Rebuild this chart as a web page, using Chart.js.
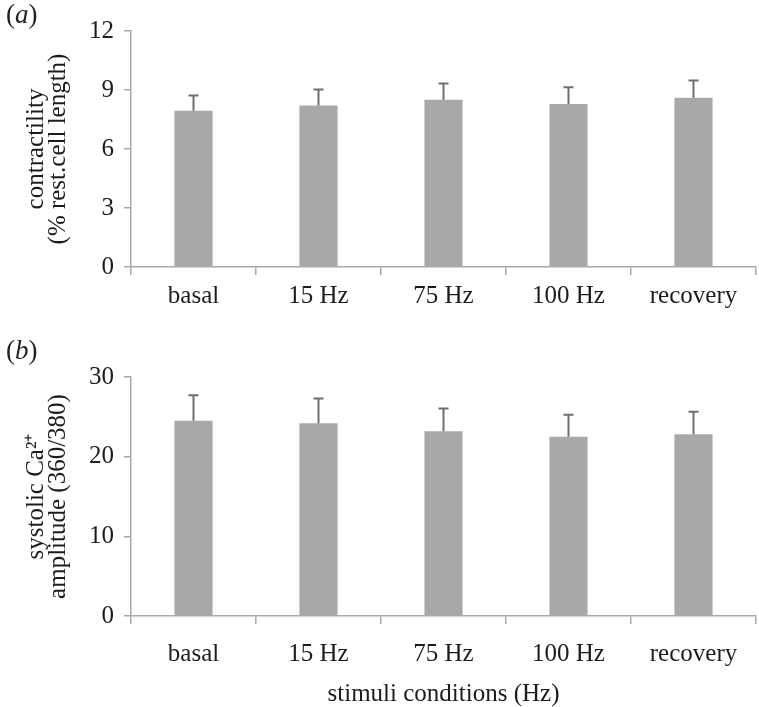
<!DOCTYPE html>
<html><head><meta charset="utf-8">
<script src="https://cdn.jsdelivr.net/npm/chart.js@4"></script>
<style>
html,body{margin:0;padding:0;background:#fff;}
#wrap{position:relative;width:759px;height:707px;overflow:hidden;background:#fff;}
canvas{position:absolute;left:0;}
.lab{position:absolute;font-family:"Liberation Serif",serif;font-size:27px;line-height:27px;color:#231f20;white-space:nowrap;}
</style></head>
<body><div id="wrap">
<canvas id="c1" width="759" height="330" style="top:0"></canvas>
<canvas id="c2" width="759" height="377" style="top:330px"></canvas>
<div class="lab" style="left:6px;top:1px">(<i>a</i>)</div>
<div class="lab" style="left:6px;top:337px">(<i>b</i>)</div>
</div>
<script>
const categories = ['basal', '15 Hz', '75 Hz', '100 Hz', 'recovery'];
const contractility = [7.95, 8.21, 8.51, 8.29, 8.60];
const contractilityErr = [0.77, 0.81, 0.82, 0.85, 0.88];
const contractilityTicks = [0, 3, 6, 9, 12];
const calcium = [24.5, 24.2, 23.2, 22.5, 22.8];
const calciumErr = [3.2, 3.1, 2.85, 2.77, 2.84];
const calciumTicks = [0, 10, 20, 30];

const FONT = '"Liberation Serif", "Times New Roman", serif';
const TEXT = '#1f1b1c';
const AXIS = '#a9a9a9';
const BAR = '#a8a8a8';
const ERR = '#6e6e6e';

const errorBars = {
  id: 'errorBars',
  afterDatasetsDraw(chart) {
    const ctx = chart.ctx;
    const y = chart.scales.y;
    chart.data.datasets.forEach((ds, di) => {
      const meta = chart.getDatasetMeta(di);
      meta.data.forEach((el, i) => {
        const v = ds.data[i], e = ds.errors[i];
        const y0 = y.getPixelForValue(v);
        const y1 = y.getPixelForValue(v + e);
        ctx.save();
        ctx.strokeStyle = ERR;
        ctx.lineWidth = 2;
        ctx.beginPath();
        ctx.moveTo(el.x, y0);
        ctx.lineTo(el.x, y1);
        ctx.moveTo(el.x - 5, y1);
        ctx.lineTo(el.x + 5, y1);
        ctx.stroke();
        ctx.restore();
      });
    });
  }
};

function makeChart(id, values, errors, ticks, yTitle, cfg) {
  const xScale = {
    grid: { display: true, drawOnChartArea: false, offset: true, tickLength: 8, color: AXIS, lineWidth: 1.5 },
    border: { display: true, color: AXIS, width: 1.5 },
    ticks: { font: { family: FONT, size: 25, lineHeight: 1 }, color: TEXT, padding: cfg.xPad, maxRotation: 0, autoSkip: false },
    afterFit(s) { s.height = cfg.xH; }
  };
  if (cfg.xTitle) {
    xScale.title = { display: true, text: cfg.xTitle, color: TEXT,
      font: { family: FONT, size: 25, lineHeight: 1 }, padding: { top: 0, bottom: 0 } };
  }
  return new Chart(document.getElementById(id), {
    type: 'bar',
    data: {
      labels: categories,
      datasets: [{ data: values, errors: errors, backgroundColor: BAR, borderWidth: 0,
        barPercentage: 0.305, categoryPercentage: 1 }]
    },
    options: {
      responsive: false, animation: false, devicePixelRatio: 1,
      layout: { padding: { top: cfg.padTop, right: 3, left: 0, bottom: 0 } },
      plugins: { legend: { display: false }, tooltip: { enabled: false } },
      scales: {
        x: xScale,
        y: {
          min: ticks[0], max: ticks[ticks.length - 1],
          ticks: { stepSize: ticks[1] - ticks[0], font: { family: FONT, size: 25, lineHeight: 1 }, color: TEXT, padding: 10 },
          grid: { drawOnChartArea: false, tickLength: 7, color: AXIS, lineWidth: 1.5 },
          border: { display: true, color: AXIS, width: 1.5 },
          title: { display: true, text: yTitle, color: TEXT,
            font: { family: FONT, size: 25, lineHeight: '22px' }, padding: { top: 25, bottom: 0 } },
          afterFit(s) { s.width = 131; }
        }
      }
    },
    plugins: [errorBars]
  });
}

makeChart('c1', contractility, contractilityErr, contractilityTicks,
  ['contractility', '(% rest.cell length)'], { padTop: 31, xH: 63, xPad: 9 });
makeChart('c2', calcium, calciumErr, calciumTicks,
  ['systolic Ca\u00B2\u207A', 'amplitude (360/380)'], { padTop: 47, xH: 91, xPad: 18, xTitle: 'stimuli conditions (Hz)' });
</script>
</body></html>
